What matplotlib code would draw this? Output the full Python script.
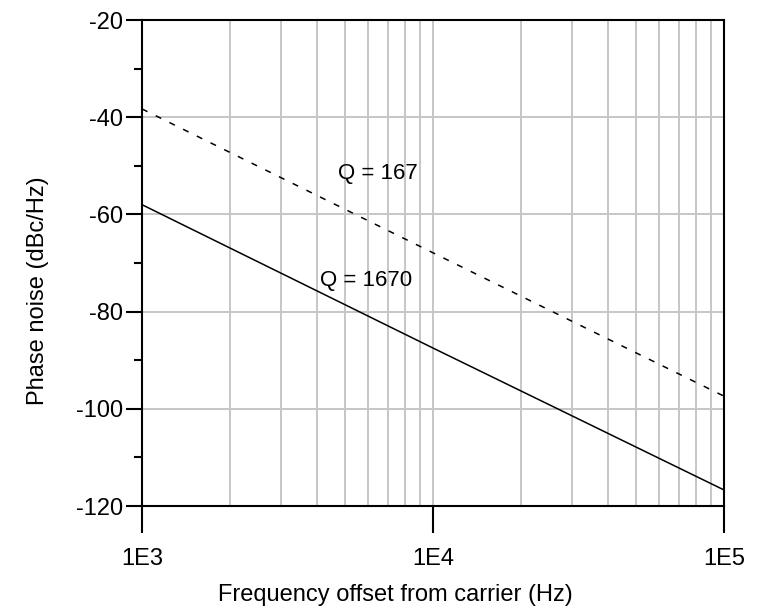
import matplotlib
matplotlib.use("Agg")
import matplotlib.pyplot as plt
from matplotlib.ticker import FixedLocator, LogLocator, NullFormatter

plt.rcParams['font.family'] = ['Liberation Sans', 'DejaVu Sans']
plt.rcParams['axes.unicode_minus'] = False

# offset frequency (Hz) and phase noise (dBc/Hz) for the two resonator Qs
freq = [1e3, 1e4, 1e5]
noise_q167 = [-38.3, -67.9, -97.4]
noise_q1670 = [-58.0, -87.5, -116.7]

x_ticks = [1e3, 1e4, 1e5]
x_ticklabels = ["1E3", "1E4", "1E5"]
y_major = [-20, -40, -60, -80, -100, -120]
y_minor = [-30, -50, -70, -90, -110]

fig = plt.figure(figsize=(7.59, 6.16), dpi=100)
ax = fig.add_axes([142 / 759, 1 - 506 / 616, 582 / 759, 486 / 616])

ax.plot(freq, noise_q167, color="black", lw=1.1, dashes=(4, 6))
ax.plot(freq, noise_q1670, color="black", lw=1.1)

ax.set_xscale("log")
ax.set_xlim(1e3, 1e5)
ax.set_ylim(-120, -20)

ax.set_xticks(x_ticks)
ax.set_xticklabels(x_ticklabels)
ax.xaxis.set_minor_locator(LogLocator(base=10, subs=range(2, 10)))
ax.xaxis.set_minor_formatter(NullFormatter())
ax.yaxis.set_major_locator(FixedLocator(y_major))
ax.yaxis.set_minor_locator(FixedLocator(y_minor))

ax.grid(True, which="both", axis="x", color="#c6c6c6", lw=1.4)
ax.grid(True, which="major", axis="y", color="#c6c6c6", lw=1.4)
ax.set_axisbelow(True)

for sp in ax.spines.values():
    sp.set_linewidth(1.5)
    sp.set_color("black")

ax.tick_params(axis="x", which="major", direction="out", length=19.5, width=1.5,
               pad=11, labelsize=17)
ax.tick_params(axis="x", which="minor", length=0)
ax.tick_params(axis="y", which="major", direction="out", length=11.5, width=1.5,
               pad=2, labelsize=17)
ax.tick_params(axis="y", which="minor", direction="out", length=5.8, width=1.5)

ax.text(6.44e3, -51.5, "Q = 167", fontsize=16, ha="center", va="center")
ax.text(5.91e3, -73.5, "Q = 1670", fontsize=16, ha="center", va="center")

fig.text(395 / 759, 1 - 595 / 616, "Frequency offset from carrier (Hz)",
         fontsize=17, ha="center", va="center")
fig.text(38 / 759, 1 - 291 / 616, "Phase noise (dBc/Hz)",
         fontsize=17, ha="center", va="center", rotation=90)

fig.savefig("out.png", dpi=100)
